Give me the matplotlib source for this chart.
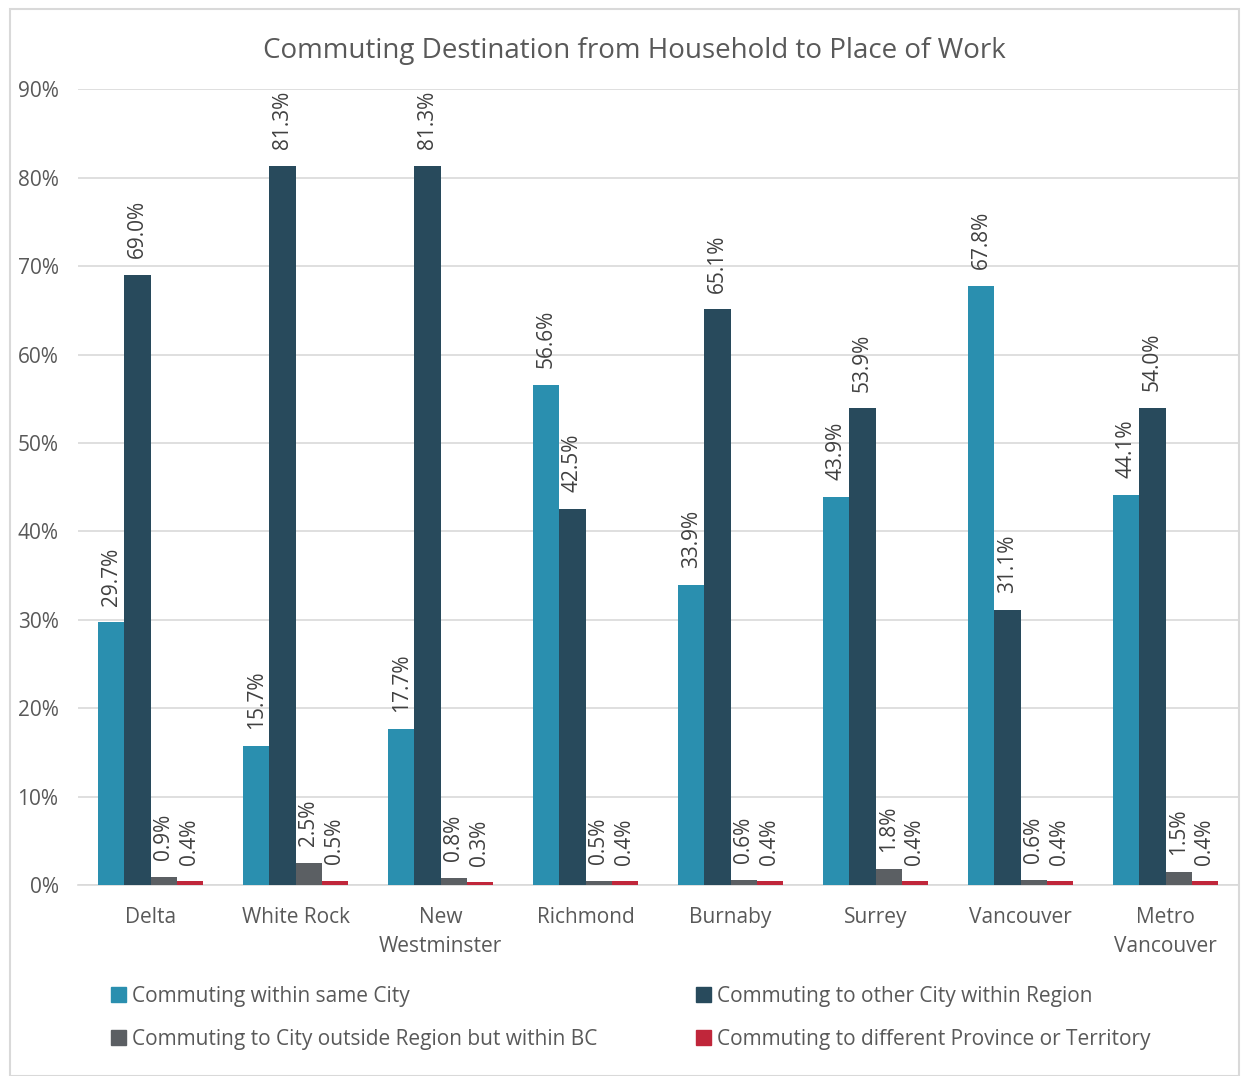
import numpy as np
import matplotlib
matplotlib.use("Agg")
import matplotlib.pyplot as plt
from matplotlib.patches import Rectangle

plt.rcParams['font.family'] = ['Open Sans', 'DejaVu Sans']

cities = ["Delta", "White Rock", "New\nWestminster", "Richmond", "Burnaby",
          "Surrey", "Vancouver", "Metro\nVancouver"]
same_city = [29.7, 15.7, 17.7, 56.6, 33.9, 43.9, 67.8, 44.1]
other_city = [69.0, 81.3, 81.3, 42.5, 65.1, 53.9, 31.1, 54.0]
outside_region = [0.9, 2.5, 0.8, 0.5, 0.6, 1.8, 0.6, 1.5]
other_province = [0.4, 0.5, 0.3, 0.4, 0.4, 0.4, 0.4, 0.4]

series = [same_city, other_city, outside_region, other_province]
names = ["Commuting within same City", "Commuting to other City within Region",
         "Commuting to City outside Region but within BC",
         "Commuting to different Province or Territory"]
colors = ["#2a8faf", "#284a5c", "#5b5f63", "#c0263a"]
txt = "#595959"

fig = plt.figure(figsize=(12.48, 10.76), dpi=100)
ax = fig.add_axes([0.0625, 0.1775, 0.9295, 0.7395])

x = np.arange(len(cities))
w = 0.18
for k, vals in enumerate(series):
    pos = x + (k - 1.5) * w
    ax.bar(pos, vals, w, color=colors[k], label=names[k], zorder=3)
    for p, v in zip(pos, vals):
        ax.text(p, v + 1.9, f"{v:.1f}%", rotation=90, ha="center", va="bottom",
                fontsize=15, color="#404040", zorder=4)

ax.set_xlim(-0.5, len(cities) - 0.5)
ax.set_ylim(0, 90)
ax.set_yticks(np.arange(0, 91, 10))
ax.set_yticklabels([f"{t}%" for t in range(0, 91, 10)])
ax.set_xticks(x)
ax.set_xticklabels(cities, fontsize=15, color=txt, linespacing=1.5)
ax.tick_params(axis="y", labelsize=15, labelcolor=txt, length=0, pad=14)
ax.tick_params(axis="x", length=0, pad=16)
ax.grid(axis="y", color="#d9d9d9", linewidth=1.2, zorder=0)
for s in ["top", "right", "left"]:
    ax.spines[s].set_visible(False)
ax.spines["bottom"].set_color("#d9d9d9")
ax.spines["bottom"].set_linewidth(1.2)

fig.text(0.508, 0.953, "Commuting Destination from Household to Place of Work",
         ha="center", va="center", fontsize=20, color=txt)

# legend is filled column by column
order = [0, 2, 1, 3]
hs = [Rectangle((0, 0), 1, 1, color=colors[i]) for i in order]
fig.legend(hs, [names[i] for i in order], loc="center left",
           bbox_to_anchor=(0.074, 0.054), ncol=2, frameon=False, fontsize=15,
           labelcolor=txt, handlelength=0.7, handleheight=0.7, handletextpad=0.3,
           columnspacing=4.75, labelspacing=1.05)

fig.add_artist(Rectangle((0.008, 0.0), 0.985, 0.992, transform=fig.transFigure,
                         fill=False, edgecolor="#d9d9d9", linewidth=1.5))

fig.savefig("out.png", dpi=100)
